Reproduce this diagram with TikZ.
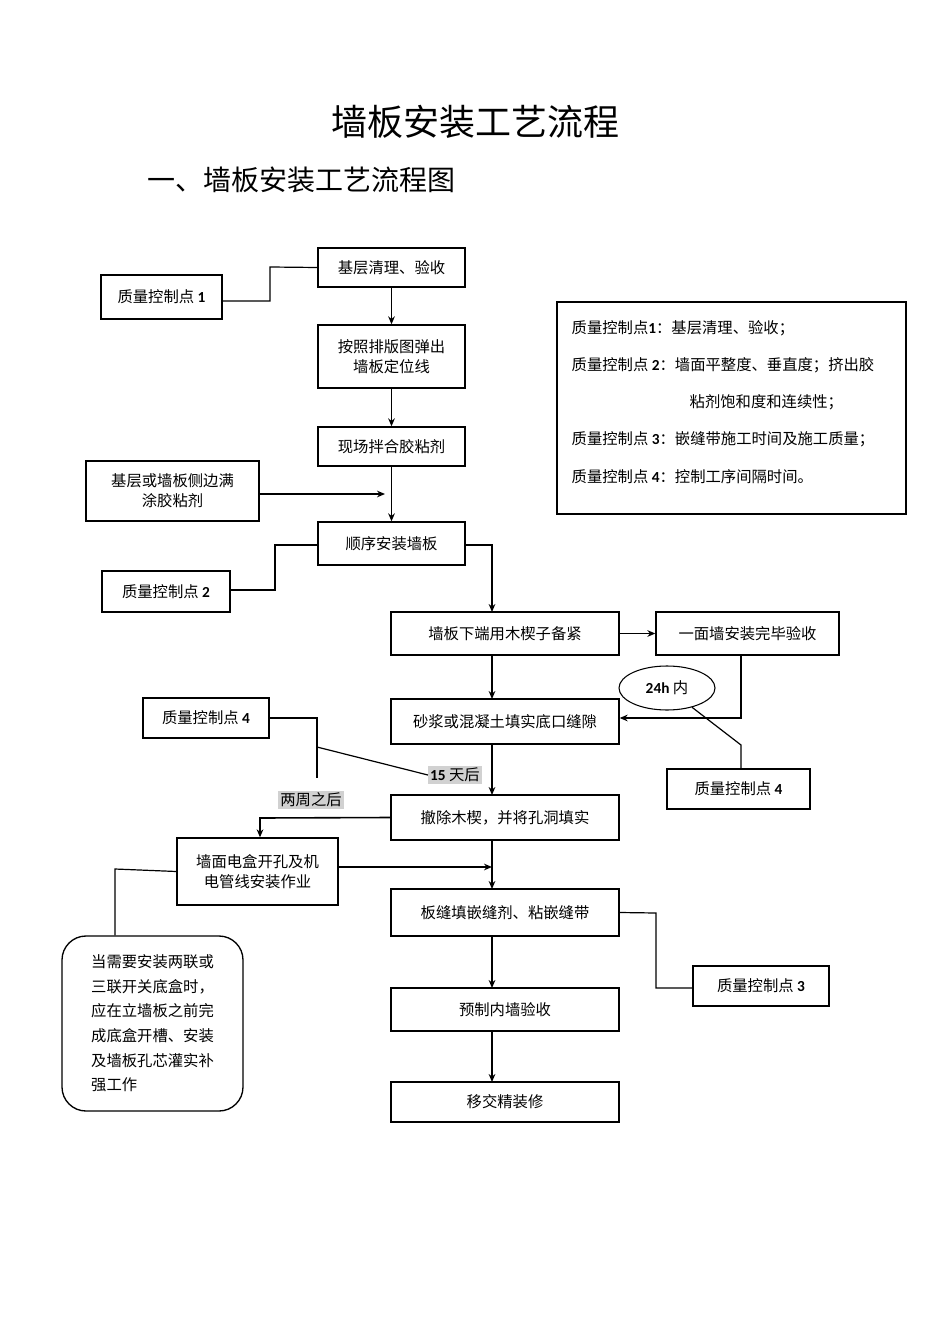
\documentclass[tikz,border=0pt]{standalone}
\usepackage{fontspec}
\setmainfont{Noto Sans CJK SC}
\newfontfamily\numf{Carlito}
\usetikzlibrary{arrows.meta,shapes.geometric}
\newcommand{\nb}[1]{{\numf\bfseries #1}}
\begin{document}
\begin{tikzpicture}[x=0.75pt,y=-0.75pt,
  box/.style={draw,line width=1pt,inner sep=0pt,font=\fontsize{11.5}{15}\selectfont,align=center},
  ln/.style={line width=0.9pt},
  ar/.style={line width=1.2pt,-{Stealth[length=6pt,width=5pt]}},
  gl/.style={fill=black!18,inner sep=1.5pt,font=\fontsize{11.5}{14}\selectfont}]
\useasboundingbox (0,0) rectangle (950,1344);
\node[font=\fontsize{27}{30}\selectfont] (title) at (475,122) {墙板安装工艺流程};
\node[font=\fontsize{21}{24}\selectfont,anchor=west] (sub) at (143,180) {一、墙板安装工艺流程图};
\node[box,minimum width=147*0.75pt,minimum height=39*0.75pt] (A) at (391.5,267.5) {基层清理、验收};
\node[box,minimum width=147*0.75pt,minimum height=63*0.75pt] (B) at (391.5,356.5) {按照排版图弹出\\墙板定位线};
\node[box,minimum width=147*0.75pt,minimum height=39*0.75pt] (C) at (391.5,446.5) {现场拌合胶粘剂};
\node[box,minimum width=173*0.75pt,minimum height=60*0.75pt] (D) at (172.5,491) {基层或墙板侧边满\\涂胶粘剂};
\node[box,minimum width=147*0.75pt,minimum height=43*0.75pt] (E) at (391.5,543.5) {顺序安装墙板};
\node[box,minimum width=121*0.75pt,minimum height=44*0.75pt] (Q1) at (161.5,297) {质量控制点 \nb{1}};
\node[box,minimum width=128*0.75pt,minimum height=41*0.75pt] (Q2) at (166,591.5) {质量控制点 \nb{2}};
\node[box,minimum width=228*0.75pt,minimum height=43*0.75pt] (F) at (505,633.5) {墙板下端用木楔子备紧};
\node[box,minimum width=183*0.75pt,minimum height=43*0.75pt] (G) at (747.5,633.5) {一面墙安装完毕验收};
\node[box,minimum width=228*0.75pt,minimum height=45*0.75pt] (H) at (505,721.5) {砂浆或混凝土填实底口缝隙};
\node[box,minimum width=126*0.75pt,minimum height=40*0.75pt] (Q4a) at (206,718) {质量控制点 \nb{4}};
\node[box,minimum width=143*0.75pt,minimum height=40*0.75pt] (Q4b) at (738.5,789) {质量控制点 \nb{4}};
\node[draw,ellipse,line width=0.8pt,minimum width=96*0.75pt,minimum height=44*0.75pt,inner sep=0pt,font=\fontsize{11.5}{14}\selectfont] (E24) at (667,688) {\nb{24h} 内};
\node[box,minimum width=228*0.75pt,minimum height=45*0.75pt] (I) at (505,817.5) {撤除木楔，并将孔洞填实};
\node[box,minimum width=161*0.75pt,minimum height=67*0.75pt] (J) at (257.5,871.5) {墙面电盒开孔及机\\电管线安装作业};
\node[box,minimum width=228*0.75pt,minimum height=47*0.75pt] (K) at (505,912.5) {板缝填嵌缝剂、粘嵌缝带};
\node[box,minimum width=136*0.75pt,minimum height=40*0.75pt] (Q3) at (761,986) {质量控制点 \nb{3}};
\node[box,minimum width=228*0.75pt,minimum height=43*0.75pt] (L) at (505,1009.5) {预制内墙验收};
\node[box,minimum width=228*0.75pt,minimum height=40*0.75pt] (M) at (505,1102) {移交精装修};
\node[box,rounded corners=18pt,minimum width=181*0.75pt,minimum height=175*0.75pt,align=left,font=\fontsize{11.5}{18.5}\selectfont] (N) at (152.5,1023.5) {当需要安装两联或\\三联开关底盒时，\\应在立墙板之前完\\成底盒开槽、安装\\及墙板孔芯灌实补\\强工作};
\node[box,line width=0.8pt,minimum width=349*0.75pt,minimum height=212*0.75pt] (leg) at (731.5,408) {};
\begin{scope}[font=\fontsize{11.5}{14}\selectfont]
\node[anchor=west] (l1) at (567,328) {质量控制点\nb{1}：基层清理、验收；};
\node[anchor=west] (l2) at (567,365) {质量控制点 \nb{2}：墙面平整度、垂直度；挤出胶};
\node[anchor=west] (l3) at (685,402) {粘剂饱和度和连续性；};
\node[anchor=west] (l4) at (567,439) {质量控制点 \nb{3}：嵌缝带施工时间及施工质量；};
\node[anchor=west] (l5) at (567,477) {质量控制点 \nb{4}：控制工序间隔时间。};
\end{scope}
\node[gl] (t15) at (455,775) {\nb{15} 天后};
\node[gl] (t2w) at (311,800) {两周之后};
\coordinate (cD) at (385,494);
\draw[ar] (A) -- (B);
\draw[ar] (B) -- (C);
\draw[ar] (C) -- (E);
\draw[ar] (D.east|-cD) -- (cD);
\draw[ln] (Q1.east|-0,301) -- (270,301) -- (270,267) -- (A.west);
\draw[ln] (Q2.east|-0,590) -- (275,590) -- (275,545) -- (E.west|-0,545);
\draw[ar] (E.east|-0,545) -- (492,545) -- (492,612);
\draw[ar] (F) -- (G);
\draw[ar] (492,655) -- (492,699);
\draw[ar] (741,655) -- (741,718) -- (H.east|-0,718);
\draw[ln] (E24) -- (741,745) -- (Q4b.north-|741,0);
\draw[ar] (492,744) -- (492,795);
\draw[ln] (Q4a.east) -- (317,718) -- (317,778);
\draw[ln] (317,747) -- (t15.west);
\draw[ar] (I.west) -- (260,818) -- (J.north-|260,0);
\draw[ar] (J.east|-0,867) -- (492,867);
\draw[ar] (492,840) -- (492,889);
\draw[ln] (J.west) -- (115,869) -- (N.north-|115,0);
\draw[ln] (K.east) -- (656,913) -- (656,988) -- (Q3.west|-0,988);
\draw[ar] (492,936) -- (492,988);
\draw[ar] (492,1031) -- (492,1082);
\end{tikzpicture}
\end{document}
